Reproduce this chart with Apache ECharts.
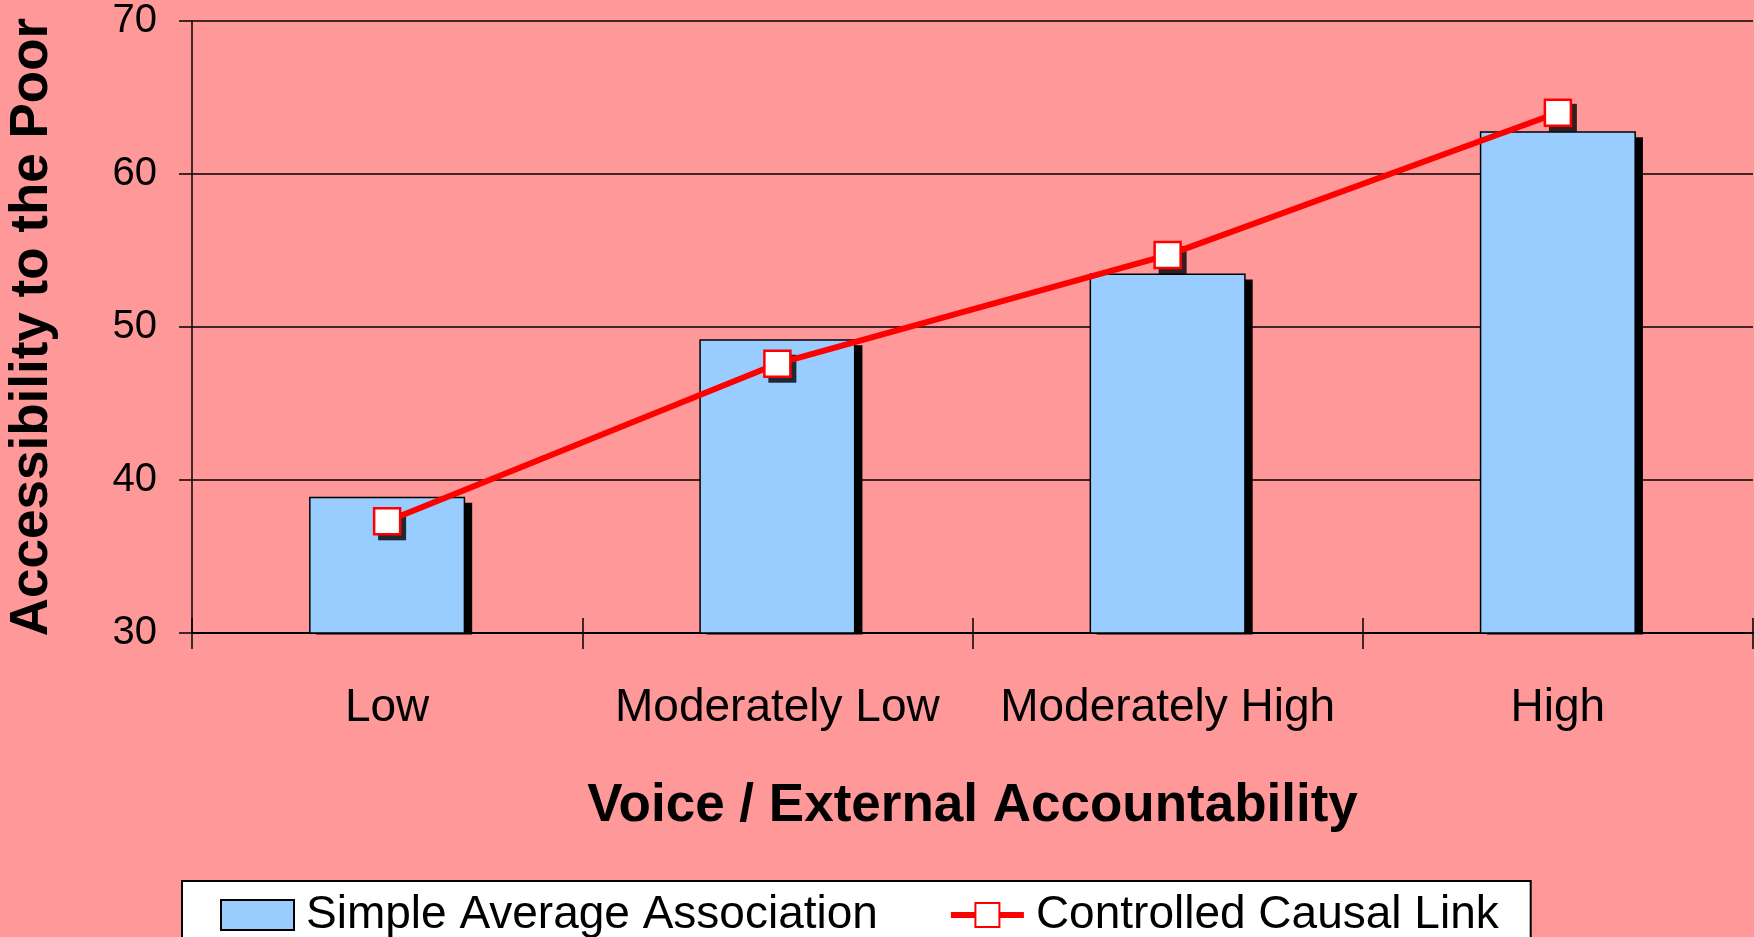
<!DOCTYPE html>
<html>
<head>
<meta charset="utf-8">
<script src="https://cdn.jsdelivr.net/npm/echarts@6/dist/echarts.min.js"></script>
<style>
html,body{margin:0;padding:0;background:#FF9999;}
#chart{width:1754px;height:937px;}
</style>
</head>
<body>
<div id="chart"></div>
<script>
const categories = ['Low', 'Moderately Low', 'Moderately High', 'High'];
const simpleAverage = [38.9, 49.2, 53.5, 62.8];
const controlledCausal = [37.3, 47.6, 54.7, 64.0];
const yMin = 30, yMax = 70, yStep = 10;
const seriesNames = ['Simple Average Association', 'Controlled Causal Link'];
const xTitle = 'Voice / External Accountability';
const yTitle = 'Accessibility to the Poor';

const FONT = '"Liberation Sans", Arial, sans-serif';
const BAR_RATIO = 0.4;
const chart = echarts.init(document.getElementById('chart'), null, {renderer: 'canvas'});

function barShadow(params, api) {
  const i = api.value(0);
  const v = api.value(1);
  const top = api.coord([i, v]);
  const base = api.coord([i, yMin]);
  const band = api.size([1, 0])[0];
  const w = band * BAR_RATIO;
  const dx = 7, dy = 6;
  return {
    type: 'rect',
    shape: {x: top[0] - w / 2 + dx, y: top[1] + dy, width: w, height: base[1] - top[1] - dy + 1.5},
    style: {fill: '#000'}
  };
}

chart.setOption({
  backgroundColor: '#FF9999',
  animation: false,
  textStyle: {fontFamily: FONT, color: '#000'},
  grid: {left: 192, top: 21, right: 1, bottom: 304, containLabel: false, outerBoundsMode: 'none'},
  legend: {
    data: [
      {name: seriesNames[0], icon: 'rect', itemStyle: {borderColor: '#000', borderWidth: 2}},
      {name: seriesNames[1]}
    ],
    left: 182, top: 881,
    orient: 'horizontal',
    backgroundColor: '#FFFFFF',
    borderColor: '#000000', borderWidth: 2,
    padding: [11, 32, 20, 38],
    itemWidth: 73, itemHeight: 30, itemGap: 70,
    textStyle: {fontFamily: FONT, fontSize: 46, color: '#000', padding: [0, 0, 0, 7]},
    lineStyle: {width: 6},
    selectedMode: false
  },
  xAxis: [{
    type: 'category', data: categories, position: 'bottom',
    name: xTitle, nameLocation: 'middle', nameGap: 147,
    nameTextStyle: {fontFamily: FONT, fontSize: 53, fontWeight: 'bold', color: '#000'},
    axisLine: {lineStyle: {color: '#000', width: 2}},
    axisTick: {show: true, inside: false, length: 16, lineStyle: {color: '#000', width: 1.5}},
    axisLabel: {fontFamily: FONT, fontSize: 46, color: '#000', margin: 52, interval: 0, hideOverlap: false},
    splitLine: {show: false}
  }, {
    type: 'category', data: categories, position: 'bottom',
    axisLine: {show: false},
    axisTick: {show: true, inside: true, length: 15, lineStyle: {color: '#000', width: 1.5}},
    axisLabel: {show: false},
    splitLine: {show: false}
  }],
  yAxis: {
    type: 'value', min: yMin, max: yMax, interval: yStep,
    name: yTitle, nameLocation: 'middle', nameGap: 133,
    nameTextStyle: {fontFamily: FONT, fontSize: 53, fontWeight: 'bold', color: '#000'},
    axisLine: {show: true, lineStyle: {color: '#000', width: 1.5}},
    axisTick: {show: true, inside: false, length: 13, lineStyle: {color: '#000', width: 1.5}},
    axisLabel: {fontFamily: FONT, fontSize: 40, color: '#000', margin: 35},
    splitLine: {show: true, lineStyle: {color: '#000', width: 1.5}}
  },
  series: [{
    name: 'barShadow', type: 'custom', xAxisIndex: 0,
    data: simpleAverage.map((v, i) => [i, v]),
    renderItem: barShadow,
    silent: true,
    z: 1
  }, {
    name: seriesNames[0], type: 'bar', xAxisIndex: 0,
    data: simpleAverage,
    barCategoryGap: '60%',
    itemStyle: {color: '#99CCFF', borderColor: '#000', borderWidth: 1.5},
    z: 2
  }, {
    name: 'markerShadow', type: 'scatter', xAxisIndex: 0,
    data: controlledCausal,
    symbol: 'rect', symbolSize: 28, symbolOffset: [5, 5],
    itemStyle: {color: '#000'},
    silent: true,
    z: 3
  }, {
    name: seriesNames[1], type: 'line', xAxisIndex: 0,
    data: controlledCausal,
    symbol: 'rect', symbolSize: 26,
    lineStyle: {color: '#FF0000', width: 6},
    itemStyle: {color: '#FFFFFF', borderColor: '#FF0000', borderWidth: 2.5},
    z: 4
  }]
});
</script>
</body>
</html>
